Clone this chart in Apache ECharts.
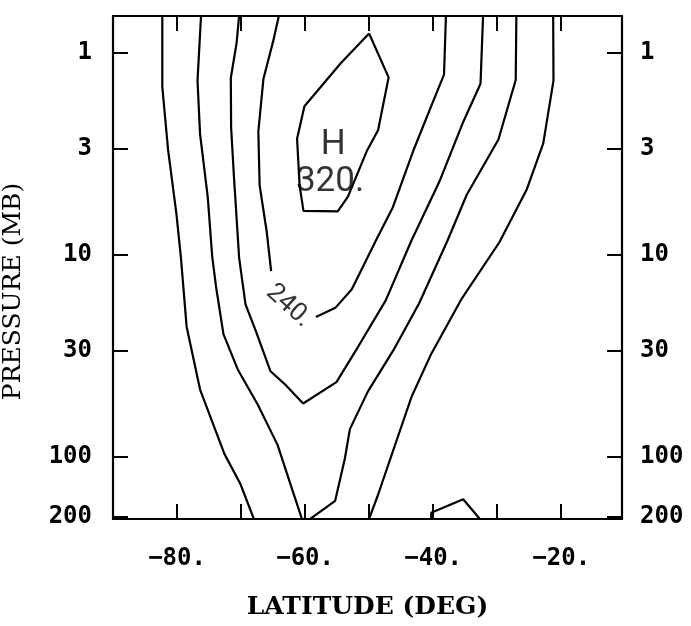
<!DOCTYPE html>
<html>
<head>
<meta charset="utf-8">
<script src="https://cdn.jsdelivr.net/npm/echarts@6/dist/echarts.min.js"></script>
<style>
  html, body { margin: 0; background: #fff; }
  #chart { width: 691px; height: 626px; }
</style>
</head>
<body>
<div id="chart"></div>
<script>
// contour lines: latitude (deg) and pressure (mb)
const latA = [-82.3, -82.3, -81.4, -80.1, -79.4, -78.5, -76.4, -72.6, -70.1, -68.0];
const presA = [0.66, 1.48, 3.03, 6.28, 10.3, 22.8, 46.7, 97.2, 137, 204];

const latB = [-76.25, -76.8, -76.4, -75.2, -74.5, -73.9, -72.75, -70.45, -67.4, -64.3, -60.5];
const presB = [0.66, 1.38, 2.54, 5.21, 10.3, 14.5, 24.8, 37.5, 55.4, 87.7, 204];

const latC = [-70.3, -70.7, -71.6, -71.55, -71.1, -70.3, -69.3, -67.7, -65.4, -63.0, -60.3,
  -55.1, -51.7, -47.4, -43.4, -39.0, -35.3, -32.6, -32.2];
const presC = [0.66, 0.90, 1.34, 2.36, 4.17, 10.4, 17.7, 23.9, 37.9, 44.4, 54.7,
  42.9, 28.6, 16.9, 8.56, 4.35, 2.21, 1.43, 0.66];

// 240 contour, broken where its label sits
const latD = [-64.1, -65.0, -66.5, -67.3, -67.1, -66.0, -65.3, null,
  -58.3, -55.2, -52.7, -48.9, -46.3, -43.1, -40.0, -38.3, -38.0];
const presD = [0.66, 0.885, 1.35, 2.46, 4.54, 7.68, 12.1, null,
  20.4, 18.3, 14.9, 8.50, 5.86, 3.07, 1.75, 1.29, 0.66];

const latE = [-59.2, -55.3, -53.8, -53.0, -50.2, -46.2, -42.2, -37.8, -34.75, -29.8, -27.1, -27.0];
const presE = [204, 166, 103, 73.3, 47.8, 29.8, 17.5, 8.61, 5.07, 2.70, 1.37, 0.66];

const latF = [-50.0, -48.7, -43.4, -40.3, -35.5, -29.65, -25.4, -22.8, -21.2, -21.25];
const presF = [204, 158, 51.0, 31.1, 16.5, 8.71, 4.79, 2.82, 1.38, 0.66];

const latG = [-40.3, -40.3, -35.3, -32.7];
const presG = [204, 190, 163, 204];

// closed 320 contour around the high
const latH = [-50.0, -46.95, -48.6, -50.3, -53.3, -54.9, -60.25, -60.85, -61.25, -60.1, -54.4, -50.0];
const presH = [0.806, 1.33, 2.43, 3.05, 5.18, 6.13, 6.09, 4.58, 2.68, 1.85, 1.13, 0.806];

const labelText = ['H', '320.', '240.'];
const labelLat = [-55.6, -56.1, -62.6];
const labelPres = [2.89, 4.41, 18.0];
const labelRotate = [0, 0, -42];
const labelSize = [35, 35, 26];

const latTicks = [-80, -70, -60, -50, -40, -30, -20];
const latLabels = [-80, -60, -40, -20];
const presTicks = [1, 3, 10, 30, 100, 200];

const lg = v => Math.log10(v);

function contour(lat, pres) {
  return {
    type: 'line',
    xAxisIndex: 0,
    yAxisIndex: 0,
    symbol: 'none',
    connectNulls: false,
    lineStyle: { color: '#000', width: 2.2 },
    data: lat.map((x, i) => x === null ? '-' : [x, lg(pres[i])])
  };
}

const labelData = labelText.map((t, i) => ({
  value: [labelLat[i], lg(labelPres[i])],
  label: { formatter: t, rotate: labelRotate[i], fontSize: labelSize[i] }
}));

const tickFont = { fontFamily: 'DejaVu Sans Mono', fontWeight: 'bold', fontSize: 24, color: '#000' };
const axisLine = { show: true, onZero: false, lineStyle: { color: '#000', width: 2.2 } };
const yLabels = presTicks.map(lg);

function xAxis(pos, showLabel) {
  return {
    type: 'value', position: pos, min: -90, max: -10.5,
    axisLine: axisLine,
    axisTick: { show: true, inside: true, length: 15, customValues: latTicks, lineStyle: { color: '#000', width: 2 } },
    axisLabel: {
      show: showLabel, margin: 28, customValues: latLabels, ...tickFont,
      formatter: v => (v < 0 ? '\u2212' : '') + Math.abs(v) + '.'
    },
    splitLine: { show: false }
  };
}

function yAxis(pos, margin) {
  return {
    type: 'value', position: pos, inverse: true, min: -0.18, max: 2.31,
    axisLine: axisLine,
    axisTick: { show: true, inside: true, length: 15, customValues: yLabels, lineStyle: { color: '#000', width: 2 } },
    axisLabel: {
      show: true, margin: margin, customValues: yLabels, ...tickFont,
      formatter: v => String(Math.round(Math.pow(10, v)))
    },
    splitLine: { show: false }
  };
}

const xBottom = xAxis('bottom', true);
xBottom.name = 'LATITUDE (DEG)';
xBottom.nameLocation = 'middle';
xBottom.nameGap = 76;
xBottom.nameTextStyle = { fontFamily: 'DejaVu Serif', fontWeight: 'bold', fontSize: 25, color: '#000' };

const yLeft = yAxis('left', 21);
yLeft.name = 'PRESSURE (MB)';
yLeft.nameLocation = 'middle';
yLeft.nameRotate = 90;
yLeft.nameGap = 87;
yLeft.nameTextStyle = { fontFamily: 'DejaVu Serif', fontSize: 25, color: '#000', padding: [0, 48, 0, 0] };

const chart = echarts.init(document.getElementById('chart'));
chart.setOption({
  backgroundColor: '#fff',
  animation: false,
  grid: { left: 113, right: 69, top: 16, bottom: 107, containLabel: false, outerBoundsMode: 'none' },
  xAxis: [xBottom, xAxis('top', false)],
  yAxis: [yLeft, yAxis('right', 18)],
  series: [
    contour(latA, presA),
    contour(latB, presB),
    contour(latC, presC),
    contour(latD, presD),
    contour(latE, presE),
    contour(latF, presF),
    contour(latG, presG),
    contour(latH, presH),
    {
      type: 'scatter',
      symbolSize: 0,
      label: {
        show: true, position: 'inside', color: '#000',
        fontFamily: 'Roboto', fontWeight: 'normal'
      },
      data: labelData
    }
  ]
});
</script>
</body>
</html>
